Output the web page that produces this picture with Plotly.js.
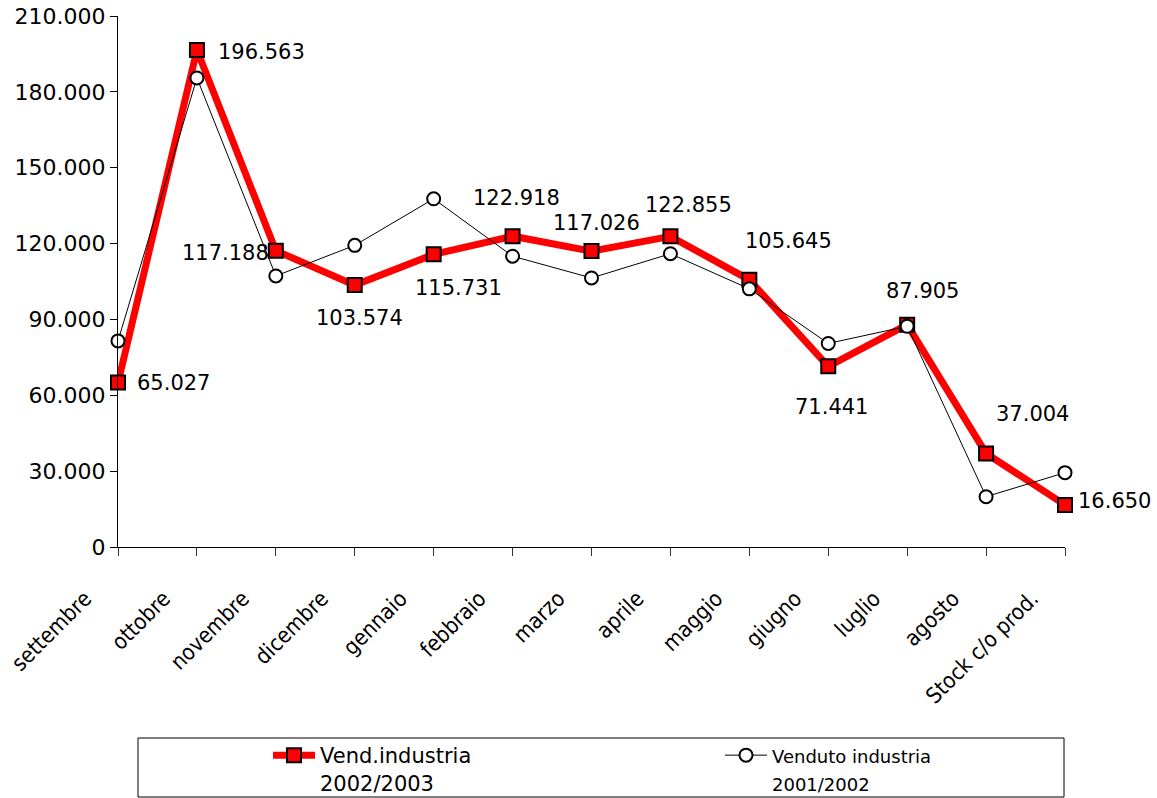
<!DOCTYPE html>
<html>
<head>
<meta charset="utf-8">
<script src="https://cdn.plot.ly/plotly-3.0.1.min.js"></script>
<style>
  html, body { margin: 0; padding: 0; background: #fff; overflow: hidden; }
  #chart { width: 1157px; height: 812px; }
</style>
</head>
<body>
<div id="chart"></div>
<script>
// ---- data ----
var categories = ['settembre','ottobre','novembre','dicembre','gennaio','febbraio','marzo','aprile','maggio','giugno','luglio','agosto','Stock c/o prod.'];
var vend2002_2003 = [65027,196563,117188,103574,115731,122918,117026,122855,105645,71441,87905,37004,16650];
var vend2001_2002 = [81500,185500,107200,119300,137700,115000,106400,116000,102100,80500,87300,19900,29400];
var seriesNames = ['Vend.industria<br>2002/2003', '<span style="font-size:18px">Venduto industria<br>2001/2002</span>'];
var yTicks = [0,30000,60000,90000,120000,150000,180000,210000];

// ---- label placement (pixel offsets from each point) ----
var labelAnchor = ['left','left','right','center','center','center','center','center','center','center','center','center','left'];
var labelDx = [17,19,-5,5,25,4,5,18,39,3,15,46,11];
var labelDy = [0,-2,-2,-33,-34,38,28,31,39,-41,34,39,4];

var FONT = 'DejaVu Sans, sans-serif';
var H = 812;          // layout height (page photographed at 798)
var PLOT_BOTTOM = 547; // px
var PLOT_H = PLOT_BOTTOM - 16;

function fmt(v) {
  return String(v).replace(/\B(?=(\d{3})+(?!\d))/g, '.');
}
function py(px) { return (PLOT_BOTTOM - px) / PLOT_H; }
function pxX(px) { return (px - 118) / 947; }

var traceNew = {
  x: categories, y: vend2002_2003, type: 'scatter', mode: 'lines+markers',
  name: seriesNames[0], legendwidth: 395, cliponaxis: false,
  line: { color: '#ff0000', width: 7 },
  marker: { symbol: 'square', size: 14, color: '#ff0000', line: { color: '#000000', width: 2 } },
  hoverinfo: 'x+y'
};
var traceOld = {
  x: categories, y: vend2001_2002, type: 'scatter', mode: 'lines+markers',
  name: seriesNames[1], legendwidth: 200, cliponaxis: false,
  line: { color: '#000000', width: 1 },
  marker: { symbol: 'circle', size: 13, color: '#ffffff', line: { color: '#000000', width: 2 } },
  hoverinfo: 'x+y'
};

var annotations = categories.map(function (c, i) {
  return {
    x: i, y: vend2002_2003[i], xref: 'x', yref: 'y',
    text: fmt(vend2002_2003[i]), showarrow: false,
    xanchor: labelAnchor[i], yanchor: 'middle',
    xshift: labelDx[i], yshift: labelDy[i],
    font: { family: FONT, size: 21, color: '#000' }
  };
});

var layout = {
  width: 1157, height: H,
  margin: { l: 118, r: 92, t: 16, b: H - PLOT_BOTTOM, autoexpand: false },
  paper_bgcolor: '#fff', plot_bgcolor: '#fff',
  separators: ',.',
  showlegend: true,
  font: { family: FONT, size: 21, color: '#000' },
  xaxis: {
    type: 'category', range: [0, 12], automargin: false,
    showline: true, linecolor: '#000', linewidth: 1,
    ticks: 'outside', ticklen: 8, tickcolor: '#333', tickwidth: 1,
    showgrid: false, zeroline: false,
    tickangle: -45,
    tickfont: { family: 'Liberation Sans Narrow, DejaVu Sans Condensed, sans-serif', size: 22, color: '#000' },
    ticklabelstandoff: 21,
    ticklabelshift: -33
  },
  xaxis2: {
    overlaying: 'x', anchor: 'y', side: 'bottom', automargin: false,
    range: [0, 12], tickmode: 'linear', tick0: 0, dtick: 1,
    ticks: 'inside', ticklen: 8, tickcolor: '#333', tickwidth: 1,
    showticklabels: false, showline: false, showgrid: false, zeroline: false
  },
  yaxis: {
    range: [0, 210000], tickvals: yTicks, tickformat: ',d', automargin: false,
    showline: true, linecolor: '#000', linewidth: 1,
    ticks: 'outside', ticklen: 7, tickcolor: '#000',
    showgrid: false, zeroline: false,
    tickfont: { family: FONT, size: 22, color: '#000' }
  },
  legend: {
    orientation: 'h', x: pxX(268), xanchor: 'left',
    y: py(735), yanchor: 'top',
    bgcolor: 'rgba(0,0,0,0)', borderwidth: 0,
    valign: 'top', itemwidth: 42,
    font: { family: FONT, size: 21, color: '#000' },
    traceorder: 'normal'
  },
  shapes: [{
    type: 'rect', xref: 'paper', yref: 'paper',
    x0: pxX(138), x1: pxX(1064),
    y0: py(797), y1: py(738),
    line: { color: '#000', width: 1 }, fillcolor: 'rgba(0,0,0,0)', layer: 'below'
  }],
  annotations: annotations
};

Plotly.newPlot('chart', [traceNew, traceOld], layout, { displayModeBar: false, staticPlot: true });
</script>
</body>
</html>
